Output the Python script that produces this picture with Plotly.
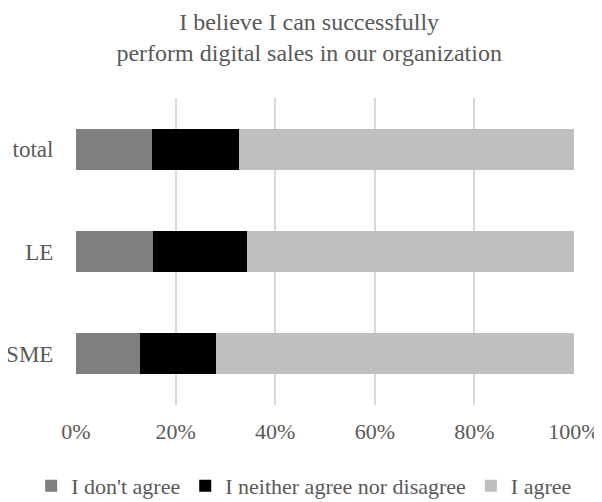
import plotly.graph_objects as go

categories = ["SME", "LE", "total"]
dont_agree = [0.128, 0.155, 0.153]
neither = [0.153, 0.189, 0.174]
agree = [0.719, 0.656, 0.673]
series_names = ["I don't agree", "I neither agree nor disagree", "I agree"]
colors = ["#7f7f7f", "#000000", "#bfbfbf"]

font_family = "Liberation Serif, Times New Roman, serif"
text_color = "#595959"

fig = go.Figure()
for name, vals, col in zip(series_names, [dont_agree, neither, agree], colors):
    fig.add_trace(go.Bar(
        y=categories, x=vals, name=name, orientation="h",
        marker=dict(color=col, line=dict(width=0)),
    ))

fig.update_layout(
    width=594, height=494,
    barmode="stack", bargap=0.6,
    paper_bgcolor="white", plot_bgcolor="white",
    margin=dict(l=68, r=28, t=90, b=97, autoexpand=False),
    font=dict(family=font_family, color=text_color, size=22),
    title=dict(
        text="I believe I can successfully<br>perform digital sales in our organization",
        x=0.507, xref="container", xanchor="center",
        y=0.955, yref="container", yanchor="middle",
        font=dict(family=font_family, size=24, color=text_color),
    ),
    legend=dict(
        orientation="h", x=-0.09, xanchor="left", xref="paper",
        y=-0.264, yref="paper", yanchor="middle",
        font=dict(family=font_family, size=22, color=text_color),
        traceorder="normal", itemwidth=30, tracegroupgap=0,
        bgcolor="rgba(0,0,0,0)",
    ),
    xaxis=dict(
        range=[0, 1], dtick=0.2, tickformat=".0%", automargin=False,
        showgrid=True, gridcolor="#d9d9d9", gridwidth=1.5,
        zeroline=False, showline=False,
        ticks="outside", ticklen=7, tickcolor="rgba(0,0,0,0)",
        tickfont=dict(family=font_family, size=22, color=text_color),
    ),
    yaxis=dict(
        categoryorder="array", categoryarray=categories, automargin=False,
        showgrid=False, zeroline=False, showline=False,
        ticks="outside", ticklen=17, tickcolor="rgba(0,0,0,0)",
        tickfont=dict(family=font_family, size=23, color=text_color),
    ),
)

fig.write_html("out.html")
